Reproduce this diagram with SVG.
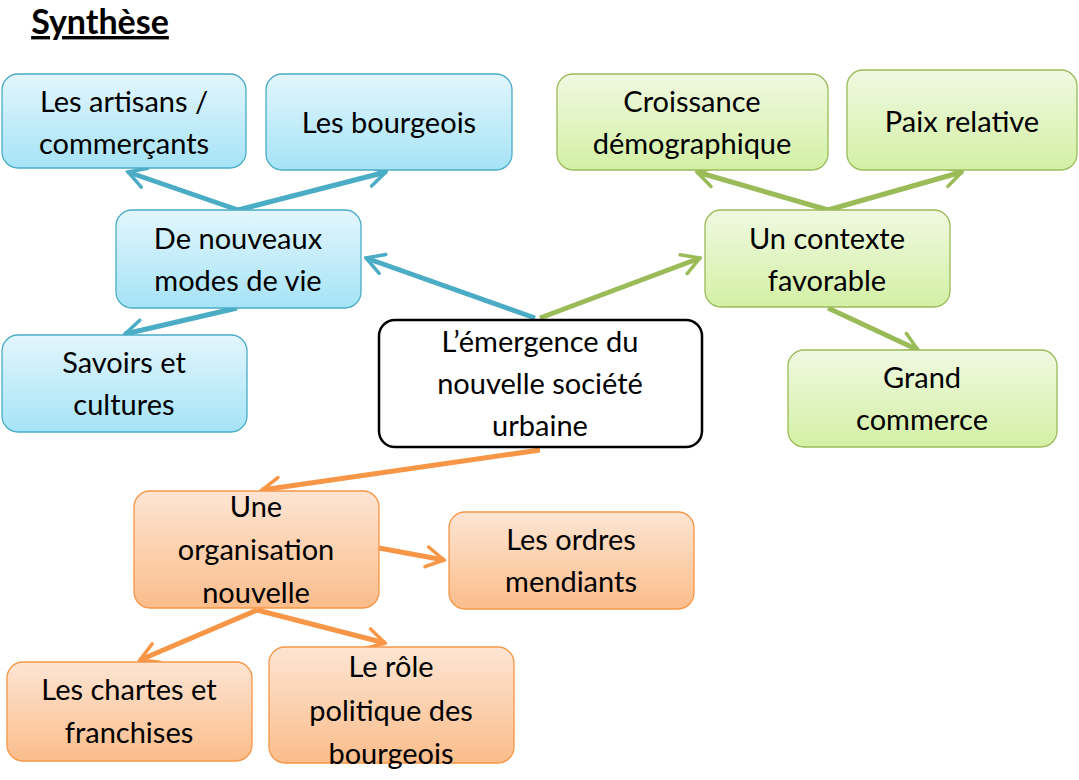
<svg xmlns="http://www.w3.org/2000/svg" width="1079" height="780" viewBox="0 0 1079 780">
<style>
text{font-family:Lato,"Open Sans","Liberation Sans",sans-serif;font-size:29px;fill:#000;text-anchor:middle}
.b{fill:url(#gb);stroke:#4bacc6;stroke-width:1.3}
.g{fill:url(#gg);stroke:#9bbb59;stroke-width:1.3}
.o{fill:url(#go);stroke:#f79646;stroke-width:1.3}
.cb{stroke:#4bacc6;stroke-width:5;fill:none;marker-end:url(#mb)}
.cg{stroke:#9bbb59;stroke-width:5;fill:none;marker-end:url(#mg)}
.co{stroke:#f79646;stroke-width:5;fill:none;marker-end:url(#mo)}
</style>
<defs>
<linearGradient id="gb" x1="0" y1="0" x2="0" y2="1"><stop offset="0" stop-color="#e3f6fd"/><stop offset="1" stop-color="#a5e3f6"/></linearGradient>
<linearGradient id="gg" x1="0" y1="0" x2="0" y2="1"><stop offset="0" stop-color="#f0f9e1"/><stop offset="1" stop-color="#d3f0a5"/></linearGradient>
<linearGradient id="go" x1="0" y1="0" x2="0" y2="1"><stop offset="0" stop-color="#fde5d3"/><stop offset="1" stop-color="#fbbd8b"/></linearGradient>
<marker id="mb" viewBox="0 0 10 10" refX="9" refY="5" markerWidth="5" markerHeight="5" orient="auto" markerUnits="strokeWidth"><path d="M2,1 L9,5 L2,9" fill="none" stroke="#4bacc6" stroke-width="1.4" stroke-linecap="round"/></marker>
<marker id="mg" viewBox="0 0 10 10" refX="9" refY="5" markerWidth="5" markerHeight="5" orient="auto" markerUnits="strokeWidth"><path d="M2,1 L9,5 L2,9" fill="none" stroke="#9bbb59" stroke-width="1.4" stroke-linecap="round"/></marker>
<marker id="mo" viewBox="0 0 10 10" refX="9" refY="5" markerWidth="5" markerHeight="5" orient="auto" markerUnits="strokeWidth"><path d="M2,1 L9,5 L2,9" fill="none" stroke="#f79646" stroke-width="1.4" stroke-linecap="round"/></marker>
</defs>
<text x="100" y="34" style="font-weight:bold;font-size:34px;text-decoration:underline" >Synthèse</text>
<g id="connectors">
<line class="cb" x1="238" y1="210" x2="128" y2="172"/>
<line class="cb" x1="238" y1="210" x2="386" y2="172"/>
<line class="cb" x1="535" y1="318" x2="366" y2="258"/>
<line class="cb" x1="237" y1="308" x2="125" y2="334"/>
<line class="cg" x1="540" y1="318" x2="700" y2="258"/>
<line class="cg" x1="828" y1="210" x2="697" y2="172"/>
<line class="cg" x1="828" y1="210" x2="962" y2="172"/>
<line class="cg" x1="828" y1="308" x2="918" y2="350"/>
<line class="co" x1="540" y1="450" x2="262" y2="490"/>
<line class="co" x1="379" y1="548" x2="444" y2="560"/>
<line class="co" x1="257" y1="610" x2="140" y2="660"/>
<line class="co" x1="257" y1="610" x2="385" y2="643"/>
</g>
<g id="artisans"><rect class="b" x="2" y="74" width="244" height="94" rx="16"/><text x="124" y="112">Les artisans /</text><text x="124" y="154">commerçants</text></g>
<g id="bourgeois"><rect class="b" x="266" y="74" width="246" height="96" rx="16"/><text x="389" y="133">Les bourgeois</text></g>
<g id="nouveaux"><rect class="b" x="116" y="210" width="245" height="98" rx="16"/><text x="238" y="249">De nouveaux</text><text x="238" y="291">modes de vie</text></g>
<g id="savoirs"><rect class="b" x="2" y="335" width="245" height="97" rx="16"/><text x="124" y="373">Savoirs et</text><text x="124" y="415">cultures</text></g>
<g id="croissance"><rect class="g" x="557" y="74" width="271" height="96" rx="16"/><text x="692" y="112">Croissance</text><text x="692" y="154">démographique</text></g>
<g id="paix"><rect class="g" x="847" y="70" width="230" height="100" rx="16"/><text x="962" y="132">Paix relative</text></g>
<g id="contexte"><rect class="g" x="705" y="210" width="245" height="97" rx="16"/><text x="827" y="249">Un contexte</text><text x="827" y="291">favorable</text></g>
<g id="grand"><rect class="g" x="788" y="350" width="269" height="97" rx="16"/><text x="922" y="388">Grand</text><text x="922" y="430">commerce</text></g>
<g id="central"><rect x="379" y="320" width="323" height="127" rx="16" fill="#fff" stroke="#000" stroke-width="2.5"/><text x="540" y="352">L’émergence du</text><text x="540" y="394">nouvelle société</text><text x="540" y="436">urbaine</text></g>
<g id="organisation"><rect class="o" x="134" y="491" width="245" height="117" rx="16"/><text x="256" y="517">Une</text><text x="256" y="560">organisation</text><text x="256" y="603">nouvelle</text></g>
<g id="ordres"><rect class="o" x="449" y="512" width="245" height="97" rx="16"/><text x="571" y="550">Les ordres</text><text x="571" y="592">mendiants</text></g>
<g id="chartes"><rect class="o" x="7" y="662" width="245" height="99" rx="16"/><text x="129" y="700">Les chartes et</text><text x="129" y="743">franchises</text></g>
<g id="role"><rect class="o" x="269" y="647" width="245" height="116" rx="16"/><text x="391" y="677">Le rôle</text><text x="391" y="721">politique des</text><text x="391" y="764">bourgeois</text></g>
</svg>
